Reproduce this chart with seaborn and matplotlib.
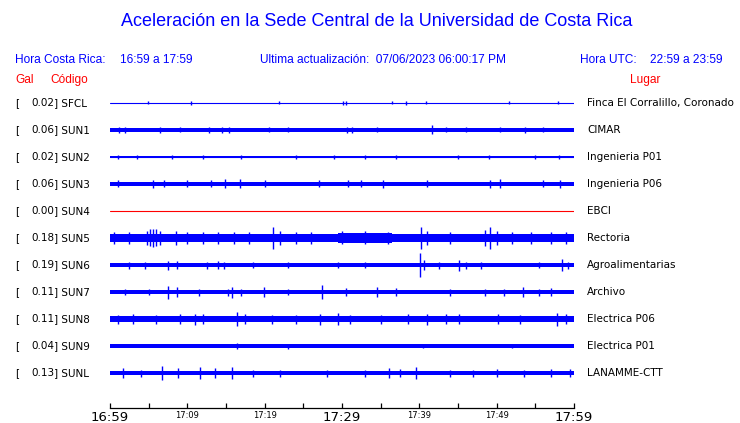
import matplotlib
matplotlib.use("Agg")
import matplotlib.pyplot as plt
import matplotlib.transforms as mtransforms
import numpy as np
import pandas as pd
import seaborn as sns

# ---------------- data ----------------
codes = ["SFCL", "SUN1", "SUN2", "SUN3", "SUN4", "SUN5", "SUN6", "SUN7", "SUN8", "SUN9", "SUNL"]
gal = [0.02, 0.06, 0.02, 0.06, 0.00, 0.18, 0.19, 0.11, 0.11, 0.04, 0.13]
places = ["Finca El Corralillo, Coronado", "CIMAR", "Ingenieria P01", "Ingenieria P06", "EBCI",
          "Rectoria", "Agroalimentarias", "Archivo", "Electrica P06", "Electrica P01", "LANAMME-CTT"]

# background noise half-amplitude of each trace (relative amplitude units)
base_amp = [0.4, 1.7, 1.1, 2.2, 0.4, 4.2, 1.8, 2.0, 3.0, 1.6, 2.0]

# stretches of stronger noise: (start minute, end minute, half-amplitude)
bursts = {
    "SUN5": [(29.5, 36.5, 5.0)],
}

# peaks: (minute after 16:59, half-amplitude)
spikes = {
    "SFCL": [(4.9, 1.5), (10.5, 2), (21.9, 1.5), (30.1, 2), (30.5, 2), (36.5, 1.5), (38.3, 2),
             (40.9, 1.5), (51.6, 1.5), (57.9, 1.5)],
    "SUN1": [(1.2, 3), (2.0, 3), (6.5, 3), (9.0, 2.5), (12.8, 3), (14.5, 3), (15.4, 3), (20.5, 2.5),
             (23.0, 2.5), (30.6, 3), (31.3, 3), (34.5, 2.5), (41.6, 4.5), (43.5, 2.5), (46.0, 2.5),
             (50.4, 2.5), (53.7, 3), (56.0, 2.5)],
    "SUN2": [(1, 2), (3.5, 2), (8, 2), (12, 2), (17, 2), (24, 2), (29, 2), (33, 2), (37, 2), (45, 2),
             (49, 2), (55, 2), (58, 2)],
    "SUN3": [(1.0, 3.5), (5.5, 4), (7.0, 3.5), (10.0, 3.5), (13.0, 3.5), (14.9, 4.5), (16.8, 4.5),
             (20.0, 3.5), (27.0, 3.5), (30.8, 3.5), (32.5, 3.5), (35.3, 4), (41, 3.5), (49.1, 4),
             (50.4, 4.5), (56.0, 3.5), (58.2, 4)],
    "SUN4": [],
    "SUN5": [(0.5, 6), (2.5, 6), (4.8, 7), (5.2, 8.5), (5.5, 9), (6.0, 8.5), (6.5, 7), (8.5, 7),
             (10, 6), (12, 6), (14, 6), (16, 6), (18, 6), (21.1, 11), (22, 7), (24, 6), (26, 6),
             (30, 6.5), (33, 6.5), (36, 6), (40.2, 11), (41, 7), (44, 6), (48.5, 8), (49.1, 11.5),
             (50, 7), (52, 6), (54.5, 6), (57, 6), (59, 6)],
    "SUN6": [(2.5, 3.5), (4.5, 3.5), (7.5, 4.5), (8.6, 4), (12.5, 3.5), (14, 4), (14.8, 3.5),
             (18.5, 3), (23, 3), (29.5, 3), (33, 3), (40.1, 12), (40.6, 5), (42.5, 3.5), (45.1, 5.5),
             (46, 3.5), (48, 3.5), (55.5, 3), (58.4, 6), (59.2, 3.5)],
    "SUN7": [(2, 3), (5, 3), (7.5, 6.5), (8.7, 5), (11.5, 3.5), (15.2, 3.5), (15.8, 5.5), (17, 3.5),
             (19.9, 5), (23, 3), (27.4, 7), (30.5, 4), (34.5, 5), (37, 4), (44, 3.5), (48.5, 3.5),
             (51, 3.5), (53.4, 5), (55.5, 3.5), (57, 4)],
    "SUN8": [(1, 4.5), (3, 5), (6, 4.5), (9, 5), (11, 5.5), (12, 5), (16.4, 7), (17.5, 5), (21, 4.5),
             (24, 4.5), (27.2, 5.5), (29.5, 6), (31, 4.5), (35, 4.5), (38.5, 5), (41.0, 5.5),
             (43.4, 5), (45.1, 5), (50.2, 5), (53, 4.5), (57.8, 6.5), (59, 5)],
    "SUN9": [(16.4, 3), (23, 2.5), (40.5, 2), (52, 2)],
    "SUNL": [(1.7, 5), (4, 3.5), (6.7, 7), (8.8, 5), (11.6, 6), (13.6, 5), (15.8, 6), (18.5, 3.5),
             (22, 3.5), (28, 3.5), (33, 3.5), (36.1, 5), (37.5, 4), (39.6, 6), (44, 3.5), (47, 3.5),
             (50, 4), (53.5, 3.5), (57, 4), (59.5, 4)],
}

tick_minutes = [0, 5, 10, 15, 20, 25, 30, 35, 40, 45, 50, 55, 60]
tick_labels = ["16:59", "", "17:09", "", "17:19", "", "17:29", "", "17:39", "", "17:49", "", "17:59"]
major_labels = ["16:59", "17:29", "17:59"]

title = "Aceleración en la Sede Central de la Universidad de Costa Rica"

# ---------------- style ----------------
sns.set_theme(style="white")
plt.rcParams["font.family"] = ["DejaVu Sans"]

BLUE = "#0000ff"
RED = "#ff0000"
W, H = 740, 423
ROW = 27.0  # amplitude units per row spacing

fig = plt.figure(figsize=(W / 100, H / 100), dpi=100)
fig.patch.set_facecolor("white")

ax = fig.add_axes([110 / W, 1 - 386.5 / H, 464 / W, 297 / H])

# centre lines through seaborn
df = pd.DataFrame([(c, i, m) for i, c in enumerate(codes) for m in (0, 60)],
                  columns=["code", "row", "minute"])
palette = {c: (RED if c == "SUN4" else BLUE) for c in codes}
sns.lineplot(data=df, x="minute", y="row", hue="code", units="code", estimator=None,
             palette=palette, legend=False, lw=0.8, ax=ax)
ax.set_xlim(0, 60)
ax.set_ylim(10.5, -0.5)
ax.axis("off")

for i, c in enumerate(codes):
    col = palette[c]
    b = base_amp[i] / ROW
    if base_amp[i] > 0.6:
        ax.fill_between([0, 60], i - b, i + b, color=col, lw=0)
    for s, e, a in bursts.get(c, []):
        ax.fill_between([s, e], i - a / ROW, i + a / ROW, color=col, lw=0)
    sp = spikes.get(c, [])
    if sp:
        t = [p[0] for p in sp]
        a = np.array([p[1] for p in sp]) / ROW
        ax.vlines(t, i - a, i + a, color=col, lw=1.0)

# labels at each row
tr = mtransforms.blended_transform_factory(fig.transFigure, ax.transData)
lf = 7.5
for i, c in enumerate(codes):
    ax.text(15 / W, i, "[", transform=tr, ha="left", va="center", fontsize=lf, color="black")
    ax.text(54 / W, i, f"{gal[i]:.2f}", transform=tr, ha="right", va="center", fontsize=lf, color="black")
    ax.text(54 / W, i, f"] {c}", transform=tr, ha="left", va="center", fontsize=lf, color="black")
    ax.text(587 / W, i, places[i], transform=tr, ha="left", va="center", fontsize=lf, color="black")

# headers
hf = ["Liberation Sans", "DejaVu Sans"]
hs = 8.6
fig.text(377 / W, 1 - 22 / H, title, ha="center", va="center", fontsize=13, color=BLUE, family=hf)
fig.text(15 / W, 1 - 60 / H, "Hora Costa Rica:", ha="left", va="center", fontsize=hs, color=BLUE, family=hf)
fig.text(120 / W, 1 - 60 / H, "16:59 a 17:59", ha="left", va="center", fontsize=hs, color=BLUE, family=hf)
fig.text(260 / W, 1 - 60 / H, "Ultima actualización:  07/06/2023 06:00:17 PM", ha="left", va="center",
         fontsize=hs, color=BLUE, family=hf)
fig.text(580 / W, 1 - 60 / H, "Hora UTC:", ha="left", va="center", fontsize=hs, color=BLUE, family=hf)
fig.text(650 / W, 1 - 60 / H, "22:59 a 23:59", ha="left", va="center", fontsize=hs, color=BLUE, family=hf)
fig.text(15 / W, 1 - 80 / H, "Gal", ha="left", va="center", fontsize=hs, color=RED, family=hf)
fig.text(50 / W, 1 - 80 / H, "Código", ha="left", va="center", fontsize=hs, color=RED, family=hf)
fig.text(645 / W, 1 - 80 / H, "Lugar", ha="center", va="center", fontsize=hs, color=RED, family=hf)

# time axis
ax2 = fig.add_axes([110 / W, 1 - 408 / H, 464 / W, 0.0001])
ax2.set_xlim(0, 60)
ax2.set_yticks([])
for s in ("top", "left", "right"):
    ax2.spines[s].set_visible(False)
ax2.spines["bottom"].set_color("black")
ax2.spines["bottom"].set_linewidth(0.9)
ax2.set_xticks(tick_minutes)
ax2.set_xticklabels(tick_labels)
ax2.tick_params(axis="x", direction="in", length=3.8, width=0.9, color="black", pad=2, bottom=True)
for lab in ax2.get_xticklabels():
    lab.set_fontsize(9.5 if lab.get_text() in major_labels else 6)
    lab.set_color("black")
    lab.set_va("top")

fig.savefig("out.png", dpi=100, facecolor="white")
